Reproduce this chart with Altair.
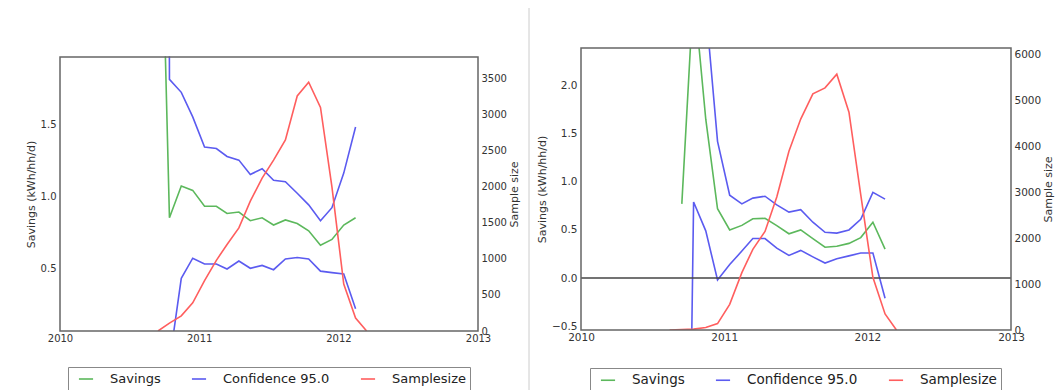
import altair as alt
import pandas as pd

SERIES = ["Savings", "Confidence 95.0", "Samplesize"]
SERIES_COLORS = ["#5cb85c", "#5b5bf0", "#ff5e5e"]
YEAR_TICKS = [2010, 2011, 2012, 2013]

# ---------------- left panel ----------------
left_dates = ["2010-09-15", "2010-10-15", "2010-11-15", "2010-12-15",
              "2011-01-15", "2011-02-15", "2011-03-15", "2011-04-15",
              "2011-05-15", "2011-06-15", "2011-07-15", "2011-08-15",
              "2011-09-15", "2011-10-15", "2011-11-15", "2011-12-15",
              "2012-01-15", "2012-02-15", "2012-03-15"]
left_savings = [4.0, 0.85, 1.07, 1.04, 0.93, 0.93, 0.88, 0.89, 0.83,
                0.85, 0.80, 0.835, 0.81, 0.76, 0.66, 0.70, 0.80, 0.85]
left_upper = [30.0, 1.81, 1.72, 1.55, 1.34, 1.33, 1.275, 1.25, 1.15,
              1.19, 1.11, 1.10, 1.02, 0.94, 0.83, 0.92, 1.16, 1.48]
left_lower = [-22.0, -0.15, 0.43, 0.57, 0.53, 0.53, 0.495, 0.55, 0.50,
              0.52, 0.49, 0.565, 0.575, 0.565, 0.48, 0.47, 0.46, 0.22]
left_samplesize = [0, 110, 210, 390, 700, 980, 1200, 1430, 1800, 2120,
                   2370, 2650, 3260, 3450, 3100, 2000, 650, 180, 0]
left_y_domain = [0.065, 1.965]
left_y_ticks = [0.5, 1.0, 1.5]
left_size_domain = [0, 3800]
left_size_ticks = [0, 500, 1000, 1500, 2000, 2500, 3000, 3500]

# ---------------- right panel ----------------
right_dates = ["2010-08-15", "2010-09-15", "2010-10-15", "2010-11-15",
               "2010-12-15", "2011-01-15", "2011-02-15", "2011-03-15",
               "2011-04-15", "2011-05-15", "2011-06-15", "2011-07-15",
               "2011-08-15", "2011-09-15", "2011-10-15", "2011-11-15",
               "2011-12-15", "2012-01-15", "2012-02-15", "2012-03-15"]
right_savings = [0.77, 3.0, 1.65, 0.72, 0.50, 0.547, 0.616, 0.62, 0.545,
                 0.46, 0.50, 0.41, 0.32, 0.33, 0.36, 0.42, 0.58, 0.30]
right_upper = [9.5, 5.5, 2.81, 1.42, 0.86, 0.77, 0.83, 0.85, 0.76,
               0.685, 0.71, 0.58, 0.475, 0.467, 0.50, 0.61, 0.89, 0.82]
right_lower = [-8.0, 0.79, 0.49, -0.02, 0.14, 0.28, 0.41, 0.41, 0.31,
               0.235, 0.287, 0.22, 0.156, 0.20, 0.23, 0.26, 0.26, -0.21]
right_samplesize = [0, 10, 20, 55, 140, 560, 1250, 1760, 2150, 2900, 3900,
                    4600, 5150, 5280, 5580, 4750, 2950, 1150, 350, 0]
right_y_domain = [-0.54, 2.39]
right_y_ticks = [-0.5, 0.0, 0.5, 1.0, 1.5, 2.0]
right_size_domain = [0, 6150]
right_size_ticks = [0, 1000, 2000, 3000, 4000, 5000, 6000]


def conf_frame(dates, savings, upper, lower):
    rows = []
    for d, s, u, l in zip(dates, savings, upper, lower):
        rows.append({"date": d, "value": s, "series": "Savings", "part": "mid"})
        rows.append({"date": d, "value": u, "series": "Confidence 95.0", "part": "upper"})
        rows.append({"date": d, "value": l, "series": "Confidence 95.0", "part": "lower"})
    df = pd.DataFrame(rows)
    df["date"] = pd.to_datetime(df["date"])
    return df


def size_frame(dates, sizes):
    return pd.DataFrame({"date": pd.to_datetime(dates), "value": sizes,
                         "series": "Samplesize", "part": "size"})


TXT = "#333333"
FRAME = "#666666"


def panel(line_df, size_df, width, height, top_off, y_dom, y_ticks, s_dom, s_ticks,
          leg_x, leg_y, leg_font, tick_font, left_ext, divider, zero_line):
    y_range = [height, top_off]
    title_y = (height + top_off) / 2
    xaxis = alt.Axis(values=[alt.DateTime(year=y, month=1, date=1) for y in YEAR_TICKS],
                     format="%Y", title=None, ticks=False, domain=False, grid=False,
                     labelPadding=2, labelFontSize=tick_font, labelFlush=False,
                     labelOverlap=False, labelColor=TXT)
    xenc = alt.X("date:T",
                 scale=alt.Scale(domain=[alt.DateTime(year=2010, month=1, date=1),
                                         alt.DateTime(year=2013, month=1, date=1)]),
                 axis=xaxis)
    legend = alt.Legend(orient="none", legendX=leg_x, legendY=leg_y, direction="horizontal",
                        title=None, labelFontSize=leg_font, labelColor="#222222",
                        symbolType="stroke", symbolSize=200, symbolStrokeWidth=1.6,
                        labelOffset=16, symbolOffset=6, columnPadding=24, padding=4,
                        strokeColor="#888888", fillColor="white")
    color = alt.Color("series:N", scale=alt.Scale(domain=SERIES, range=SERIES_COLORS),
                      legend=legend)
    lines = alt.Chart(line_df).mark_line(clip=True, strokeWidth=1.6).encode(
        x=xenc,
        y=alt.Y("value:Q", scale=alt.Scale(domain=y_dom, nice=False, zero=False,
                                           range=y_range),
                axis=alt.Axis(orient="left", values=y_ticks, format=".1f",
                              title="Savings (kWh/hh/d)", titleY=title_y, ticks=False,
                              domain=False, grid=False, labelPadding=4, titlePadding=4,
                              labelFontSize=tick_font, labelColor=TXT,
                              titleFontSize=11, titleFontWeight="normal",
                              titleColor=TXT, labelOverlap=False)),
        color=color,
        detail="part:N",
    )
    sizes = alt.Chart(size_df).mark_line(clip=True, strokeWidth=1.6).encode(
        x=xenc,
        y=alt.Y("value:Q", scale=alt.Scale(domain=s_dom, nice=False, zero=False,
                                           range=y_range),
                axis=alt.Axis(orient="right", values=s_ticks, format="d",
                              title="Sample size", titleAngle=270, titleY=title_y,
                              ticks=False, domain=False, grid=False, labelPadding=3,
                              titlePadding=13, labelFontSize=tick_font,
                              labelColor=TXT, titleFontSize=11,
                              titleFontWeight="normal", titleColor=TXT,
                              labelOverlap=False)),
        color=color,
        detail="part:N",
    )
    one = pd.DataFrame({"k": [0]})
    layers = [lines]
    if zero_line:
        layers.append(
            alt.Chart(pd.DataFrame({"value": [0.0]})).mark_rule(
                color="#444444", strokeWidth=1.5).encode(
                y=alt.Y("value:Q", scale=alt.Scale(domain=y_dom, nice=False, zero=False,
                                                   range=y_range),
                        axis=None)))
    layers.append(sizes)
    # white mask above the frame, then the frame itself
    if top_off > 0:
        layers.append(alt.Chart(one).mark_rect(fill="white").encode(
            x=alt.value(-2), x2=alt.value(width + 2),
            y=alt.value(-2), y2=alt.value(top_off - 0.8)))
    layers.append(alt.Chart(one).mark_rect(fillOpacity=0, stroke=FRAME, strokeWidth=1.5).encode(
        x=alt.value(0), x2=alt.value(width), y=alt.value(top_off), y2=alt.value(height)))
    # invisible anchor that fixes the panel's top-left bounds
    layers.append(alt.Chart(one).mark_rule(opacity=0, strokeWidth=0).encode(
        x=alt.value(left_ext), y=alt.value(-47), y2=alt.value(0)))
    if divider is not None:
        layers.append(alt.Chart(one).mark_rule(color="#cccccc", strokeWidth=1).encode(
            x=alt.value(divider[0]), y=alt.value(divider[1]), y2=alt.value(divider[2])))
    return alt.layer(*layers).resolve_scale(y="independent").properties(
        width=width, height=height,
        view=alt.ViewBackground(stroke="transparent"))


left = panel(conf_frame(left_dates[:18], left_savings, left_upper, left_lower),
             size_frame(left_dates, left_samplesize),
             418, 283, 9, left_y_domain, left_y_ticks, left_size_domain, left_size_ticks,
             leg_x=8, leg_y=319, leg_font=13, tick_font=10,
             left_ext=-59, divider=(469, -40, 342), zero_line=False)

right = panel(conf_frame(right_dates[1:19], right_savings, right_upper, right_lower),
              size_frame(right_dates, right_samplesize),
              430, 282, 0, right_y_domain, right_y_ticks, right_size_domain, right_size_ticks,
              leg_x=9, leg_y=320, leg_font=13.5, tick_font=10.5,
              left_ext=-54, divider=None, zero_line=True)

chart = alt.hconcat(left, right, spacing=-4).resolve_scale(
    color="independent", x="independent").properties(
    padding={"left": 0, "top": 0, "right": 0, "bottom": 0}
).configure(font="DejaVu Sans", background="white").configure_view(
    stroke="transparent")

chart.save("out.html", embed_options={"renderer": "svg", "actions": False})
